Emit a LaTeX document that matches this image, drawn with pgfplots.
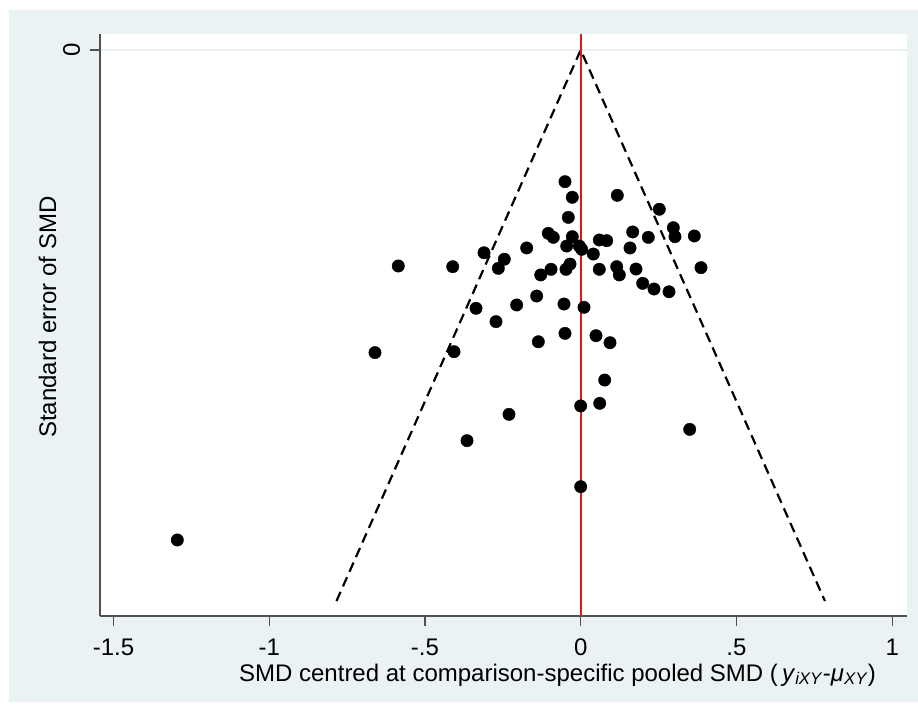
\documentclass[border=0pt]{standalone}
\usepackage{pgfplots}
\pgfplotsset{compat=1.18}
\usepackage{fontspec}
\setmainfont{Liberation Sans}
\definecolor{bgblue}{RGB}{234,242,243}
\definecolor{axgray}{RGB}{80,80,80}
\definecolor{statared}{RGB}{215,25,32}
\begin{document}
\fontsize{24}{28}\selectfont
\begin{tikzpicture}
\fill[white] (-100pt,-88pt) rectangle (818pt,616pt);
\fill[bgblue] (-91pt,-86pt) rectangle (818pt,606pt);
\begin{axis}[
  at={(0pt,0pt)}, anchor=south west,
  scale only axis, width=807pt, height=582pt,
  xmin=-1.5432, xmax=1.0475, ymin=-0.01162, ymax=0.41089,
  y dir=reverse,
  axis background/.style={fill=white},
  axis lines*=left,
  axis line style={axgray, line width=1.4pt},
  tick style={axgray, line width=1.4pt},
  tick align=outside, major tick length=10pt,
  xtick={-1.5,-1,-0.5,0,0.5,1},
  xticklabels={-1.5,-1,-.5,0,.5,1},
  ytick={0}, yticklabels={0},
  ymajorgrids, major grid style={bgblue, line width=2.5pt},
  every tick label/.append style={font=\fontsize{24}{28}\selectfont, text=black},
  xticklabel style={anchor=base},
  xticklabel shift=29pt,
  yticklabel style={rotate=90, anchor=base},
  yticklabel shift=10pt,
  xlabel={SMD centred at comparison-specific pooled SMD (\,\textit{y}\textsubscript{\textit{iXY}}-\textit{μ}\textsubscript{\textit{XY}})},
  ylabel={Standard error of SMD},
  xlabel style={at={(axis description cs:0.1623,-0.1117)}, anchor=base west, font=\fontsize{24}{28}\selectfont, text=black},
  ylabel style={at={(axis description cs:-0.0545,0.292)}, anchor=base west, rotate=0, font=\fontsize{24}{28}\selectfont, text=black},
  clip=false,
]
\addplot[black, line width=2.2pt, dash pattern=on 10pt off 6pt] coordinates {(-0.784,0.4) (0,0) (0.784,0.4)};
\addplot[statared, line width=2pt] coordinates {(0,-0.01162) (0,0.41089)};
\addplot[only marks, mark=*, mark size=6.2pt, mark options={fill=black, draw=black}] table {
x se
-0.0504 0.0956
-0.0270 0.1069
0.1175 0.1055
0.2523 0.1156
-0.0398 0.1215
-0.1040 0.1331
-0.0880 0.1360
-0.0270 0.1355
-0.0449 0.1423
-0.0045 0.1423
0.0032 0.1447
0.0597 0.1379
0.0835 0.1384
0.1669 0.1321
0.2170 0.1360
0.2973 0.1290
0.3027 0.1355
0.3647 0.1350
0.0404 0.1481
0.1583 0.1437
-0.1734 0.1437
-0.3104 0.1472
-0.2453 0.1519
-0.2645 0.1585
-0.5856 0.1568
-0.4109 0.1573
-0.0343 0.1554
-0.0472 0.1592
-0.0953 0.1592
-0.1284 0.1633
0.0597 0.1592
0.1156 0.1573
0.1239 0.1633
0.1775 0.1590
0.1990 0.1694
0.2353 0.1735
0.2835 0.1755
0.3862 0.1580
-0.1413 0.1786
-0.2055 0.1851
-0.3361 0.1875
-0.2719 0.1972
-0.0536 0.1844
0.0106 0.1868
-0.1361 0.2118
-0.0504 0.2057
0.0491 0.2074
0.0941 0.2125
-0.6604 0.2197
-0.4067 0.2190
0.0770 0.2396
0.0610 0.2565
0.0000 0.2584
-0.2302 0.2645
-0.3650 0.2836
0.3499 0.2754
0.0000 0.3170
-1.2950 0.3557
};
\end{axis}
\end{tikzpicture}
\end{document}
